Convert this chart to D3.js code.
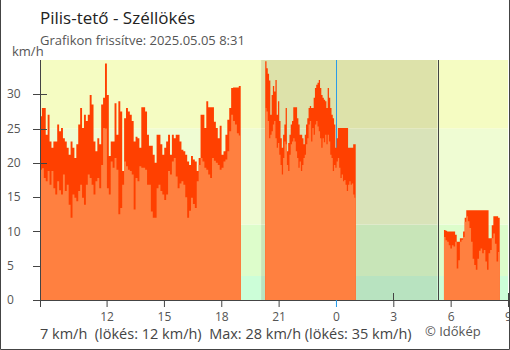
<!DOCTYPE html>
<html><head><meta charset="utf-8">
<script src="https://cdn.jsdelivr.net/npm/d3@7"></script>
<style>html,body{margin:0;padding:0;background:#fff}svg{display:block;font-family:"Open Sans",sans-serif}</style>
</head><body>
<svg id="c" width="510" height="350"></svg>
<script>
// ---- data ----
const title = "Pilis-tető - Széllökés";
const subtitle = "Grafikon frissítve: 2025.05.05 8:31";
const unitLabel = "km/h";
const footerText = "7 km/h  (lökés: 12 km/h)  Max: 28 km/h (lökés: 35 km/h)";
const copyright = "© Időkép";

const domainStart = new Date(2025,4,4,8,31);
const domainEnd = new Date(2025,4,5,9,0);
const sunset = new Date(2025,4,4,20,5);
const sunrise = new Date(2025,4,5,5,19);
const midnight = new Date(2025,4,5,0,0);

const xTickTimes = [new Date(2025,4,4,8,31), new Date(2025,4,4,12,0), new Date(2025,4,4,15,0), new Date(2025,4,4,18,0), new Date(2025,4,4,21,0), new Date(2025,4,5,0,0), new Date(2025,4,5,3,0), new Date(2025,4,5,6,0), new Date(2025,4,5,9,0)];
const xTickLabels = ["", "12", "15", "18", "21", "0", "3", "6", "9"];
const yTicks = [0, 5, 10, 15, 20, 25, 30];
const yInnerTicks = [20, 25, 30];

const bandEdges = [0, 3.5, 11, 25, 35];
const dayColors = ["#ccfed8", "#ddfdcb", "#effcd3", "#f5fcc2"];
const nightColors = ["#b8e3c0", "#c8e5b8", "#d9e3b9", "#dde2aa"];

// segment 1: start 08:31, every 6 min
const seg1Start = new Date(2025,4,4,8,31), seg1Step = 6;
const gust1 = [26.8,28.0,28.0,24.1,27.0,23.1,22.2,23.1,23.1,25.6,24.6,25.1,23.6,23.1,22.2,21.2,23.1,22.2,20.7,22.7,25.6,28.0,25.1,27.0,26.1,27.0,29.9,28.5,23.1,21.7,23.6,22.7,28.5,29.5,
 34.5,29.9,21.0,23.1,23.1,28.7,24.1,29.0,27.5,18.8,26.5,28.0,27.5,27.0,26.1,23.1,23.8,23.6,22.2,28.1,28.1,27.5,24.1,22.5,22.5,21.2,20.0,24.1,24.1,22.7,21.2,22.2,23.1,24.1,21.2,24.1,23.6,
 24.1,24.1,23.1,21.9,21.7,21.2,20.2,19.7,21.0,20.5,20.2,18.8,20.7,27.0,27.0,25.1,29.0,28.1,28.1,28.1,26.0,25.1,23.6,25.4,21.2,21.7,24.1,26.3,28.0,30.9,31.0,31.0,31.0,31.2];
const avg1 = [19.0,19.2,17.8,17.3,18.8,16.8,18.8,16.3,15.4,17.3,16.0,15.4,18.3,15.9,16.8,13.9,12.0,15.4,14.9,14.4,15.9,16.8,14.9,13.9,16.8,18.3,17.8,16.8,15.4,17.3,17.8,16.3,19.7,25.1,
 25.0,16.3,15.4,20.2,19.3,20.7,19.0,12.5,13.4,16.8,20.2,19.5,19.0,18.8,18.3,13.2,17.8,17.3,19.5,19.3,19.3,19.0,16.8,16.8,12.9,12.0,12.0,16.3,16.8,15.9,15.4,14.6,15.4,18.8,18.3,20.2,20.7,
 18.0,16.3,17.0,17.3,16.8,15.0,12.0,13.0,14.9,14.0,13.4,17.3,19.7,20.7,20.2,19.3,19.0,18.3,17.8,20.7,20.3,20.0,19.7,19.0,19.3,20.2,20.5,21.7,24.6,27.0,26.1,25.6,24.3,24.0];

// segment 2: start 20:18, every 4 min
const seg2Start = new Date(2025,4,4,20,18), seg2Step = 4;
const gust2 = [34.8,33.8,33.0,32.0,27.0,29.9,31.2,30.4,32.1,27.0,29.0,26.1,23.6,22.2,24.1,25.6,28.0,21.7,22.9,24.1,25.6,26.1,28.1,28.1,28.1,26.5,25.6,24.1,24.1,23.6,22.7,24.1,25.6,26.5,28.0,28.3,
 28.0,28.0,29.5,30.9,31.4,31.7,32.1,30.9,29.9,29.5,29.2,29.0,28.0,30.9,29.5,28.0,27.0,26.5,25.6,22.2,23.6,25.1,25.1,25.1,25.1,25.1,25.1,25.1,25.1,22.2,22.2,22.2,22.2,22.7,22.7];
const avg2 = [28.0,27.5,26.1,23.6,24.1,24.6,25.6,26.1,23.6,22.2,22.9,21.2,19.7,18.3,20.7,23.1,22.7,19.7,18.8,21.2,22.7,23.1,23.6,23.1,21.7,20.7,19.3,20.2,18.8,19.7,20.7,21.2,22.7,23.6,25.6,26.1,
 23.1,25.1,24.1,25.6,26.1,25.3,24.6,23.6,22.2,23.6,23.0,24.1,22.7,24.1,23.1,21.2,20.7,18.8,19.7,19.3,20.2,20.7,19.3,17.8,18.3,17.3,17.5,16.8,15.9,16.8,17.3,16.8,17.0,15.4,14.9];

// segment 3: start 05:39, every 5 min
const seg3Start = new Date(2025,4,5,5,39), seg3Step = 5;
const gust3 = [10.2,10.1,10.0,10.0,10.0,10.0,10.0,9.5,8.5,8.5,9.0,9.0,10.0,12.0,13.1,13.1,13.1,13.1,13.1,13.1,13.1,13.1,13.1,13.1,13.1,13.1,13.1,13.1,9.0,9.0,10.9,12.2,12.2,12.2,12.0];
const avg3 = [9.2,8.7,8.5,8.0,7.5,8.0,7.8,8.5,4.6,5.8,8.5,8.8,9.2,11.4,12.2,11.5,10.5,8.5,6.0,5.1,4.4,6.0,7.2,7.5,6.8,7.3,5.6,4.4,6.8,7.3,9.0,9.7,8.2,5.6,7.0];

// ---- chart ----
const svg = d3.select("#c");
const x = d3.scaleTime().domain([domainStart, domainEnd]).range([40, 508]);
const y = d3.scaleLinear().domain([0, 35]).range([300, 60]);

// background bands
const periods = [[domainStart, sunset, dayColors], [sunset, sunrise, nightColors], [sunrise, domainEnd, dayColors]];
periods.forEach(([a, b, cols]) => {
  for (let i = 0; i < bandEdges.length - 1; i++) {
    svg.append("rect").attr("x", x(a)).attr("width", x(b) - x(a))
      .attr("y", y(bandEdges[i+1])).attr("height", y(bandEdges[i]) - y(bandEdges[i+1]))
      .attr("fill", cols[i]);
  }
});

// midnight and sunrise lines
svg.append("line").attr("x1", Math.round(x(midnight))+0.5).attr("x2", Math.round(x(midnight))+0.5)
  .attr("y1", y(35)).attr("y2", 307).attr("stroke", "#2a9be8").attr("stroke-width", 1);
svg.append("line").attr("x1", Math.round(x(sunrise))+0.5).attr("x2", Math.round(x(sunrise))+0.5)
  .attr("y1", y(35)).attr("y2", 300).attr("stroke", "#444").attr("stroke-width", 1);

// inner x ticks (behind bars)
svg.append("g").selectAll("line").data(xTickTimes.slice(1)).join("line")
  .attr("x1", d => Math.round(x(d))+0.5).attr("x2", d => Math.round(x(d))+0.5)
  .attr("y1", 293).attr("y2", 300).attr("stroke", "#444");

// series
function build(start, step, g, a) {
  const pts = g.map((v, i) => ({t: d3.timeMinute.offset(start, i*step), g: v, a: a[i]}));
  const last = pts[pts.length-1];
  pts.push({t: d3.timeMinute.offset(start, g.length*step), g: last.g, a: last.a});
  return pts;
}
const segs = [build(seg1Start, seg1Step, gust1, avg1), build(seg2Start, seg2Step, gust2, avg2), build(seg3Start, seg3Step, gust3, avg3)];
const areaG = d3.area().curve(d3.curveStepAfter).x(d => x(d.t)).y0(y(0)).y1(d => y(d.g));
const areaA = d3.area().curve(d3.curveStepAfter).x(d => x(d.t)).y0(y(0)).y1(d => y(d.a));
segs.forEach(s => svg.append("path").attr("d", areaG(s)).attr("fill", "#ff4000"));
segs.forEach(s => svg.append("path").attr("d", areaA(s)).attr("fill", "#ff8040"));

// axes
const axisColor = "#444";
svg.append("line").attr("x1", 40.5).attr("x2", 40.5).attr("y1", 60).attr("y2", 300).attr("stroke", axisColor);
svg.append("line").attr("x1", 33).attr("x2", 510).attr("y1", 300.5).attr("y2", 300.5).attr("stroke", axisColor);

const xAxis = d3.axisBottom(x).tickValues(xTickTimes).tickSize(7).tickPadding(5)
  .tickFormat((d, i) => xTickLabels[i]);
const gx = svg.append("g").attr("transform", "translate(0,300)").call(xAxis);
gx.select(".domain").remove();
gx.selectAll(".tick line").attr("stroke", (d) => +d === +midnight ? "#2a9be8" : axisColor);
gx.selectAll(".tick text").attr("fill", "#555").style("font-size", "12px").style("font-family", "Open Sans");

// y ticks
const gy = svg.append("g");
gy.selectAll("line.o").data(yTicks).join("line")
  .attr("x1", 33).attr("x2", 40).attr("y1", d => Math.round(y(d))+0.5).attr("y2", d => Math.round(y(d))+0.5).attr("stroke", axisColor);
gy.selectAll("line.i").data(yInnerTicks).join("line")
  .attr("x1", 40).attr("x2", 47).attr("y1", d => Math.round(y(d))+0.5).attr("y2", d => Math.round(y(d))+0.5).attr("stroke", axisColor);
gy.selectAll("text").data(yTicks).join("text")
  .attr("x", 7).attr("y", d => y(d)).attr("dy", "0.35em")
  .attr("fill", "#555").style("font-size", "12px").text(d => d);

// texts
svg.append("text").attr("x", 40).attr("y", 24).attr("fill", "#222").style("font-size", "17px").text(title);
svg.append("text").attr("x", 40).attr("y", 45).attr("fill", "#555").style("font-size", "13px").text(subtitle);
svg.append("text").attr("x", 12).attr("y", 56).attr("fill", "#555").style("font-size", "13px").text(unitLabel);
svg.append("text").attr("x", 40).attr("y", 339).attr("fill", "#444").style("font-size", "14.5px").style("white-space", "pre").attr("xml:space", "preserve").text(footerText);
svg.append("text").attr("x", 425).attr("y", 336).attr("fill", "#555").style("font-size", "13px").text(copyright);

// frame
svg.append("path").attr("d", "M0.5,0 V349.5 H509.5 V0").attr("fill", "none").attr("stroke", "#444").attr("stroke-width", 1);
</script>
</body></html>
